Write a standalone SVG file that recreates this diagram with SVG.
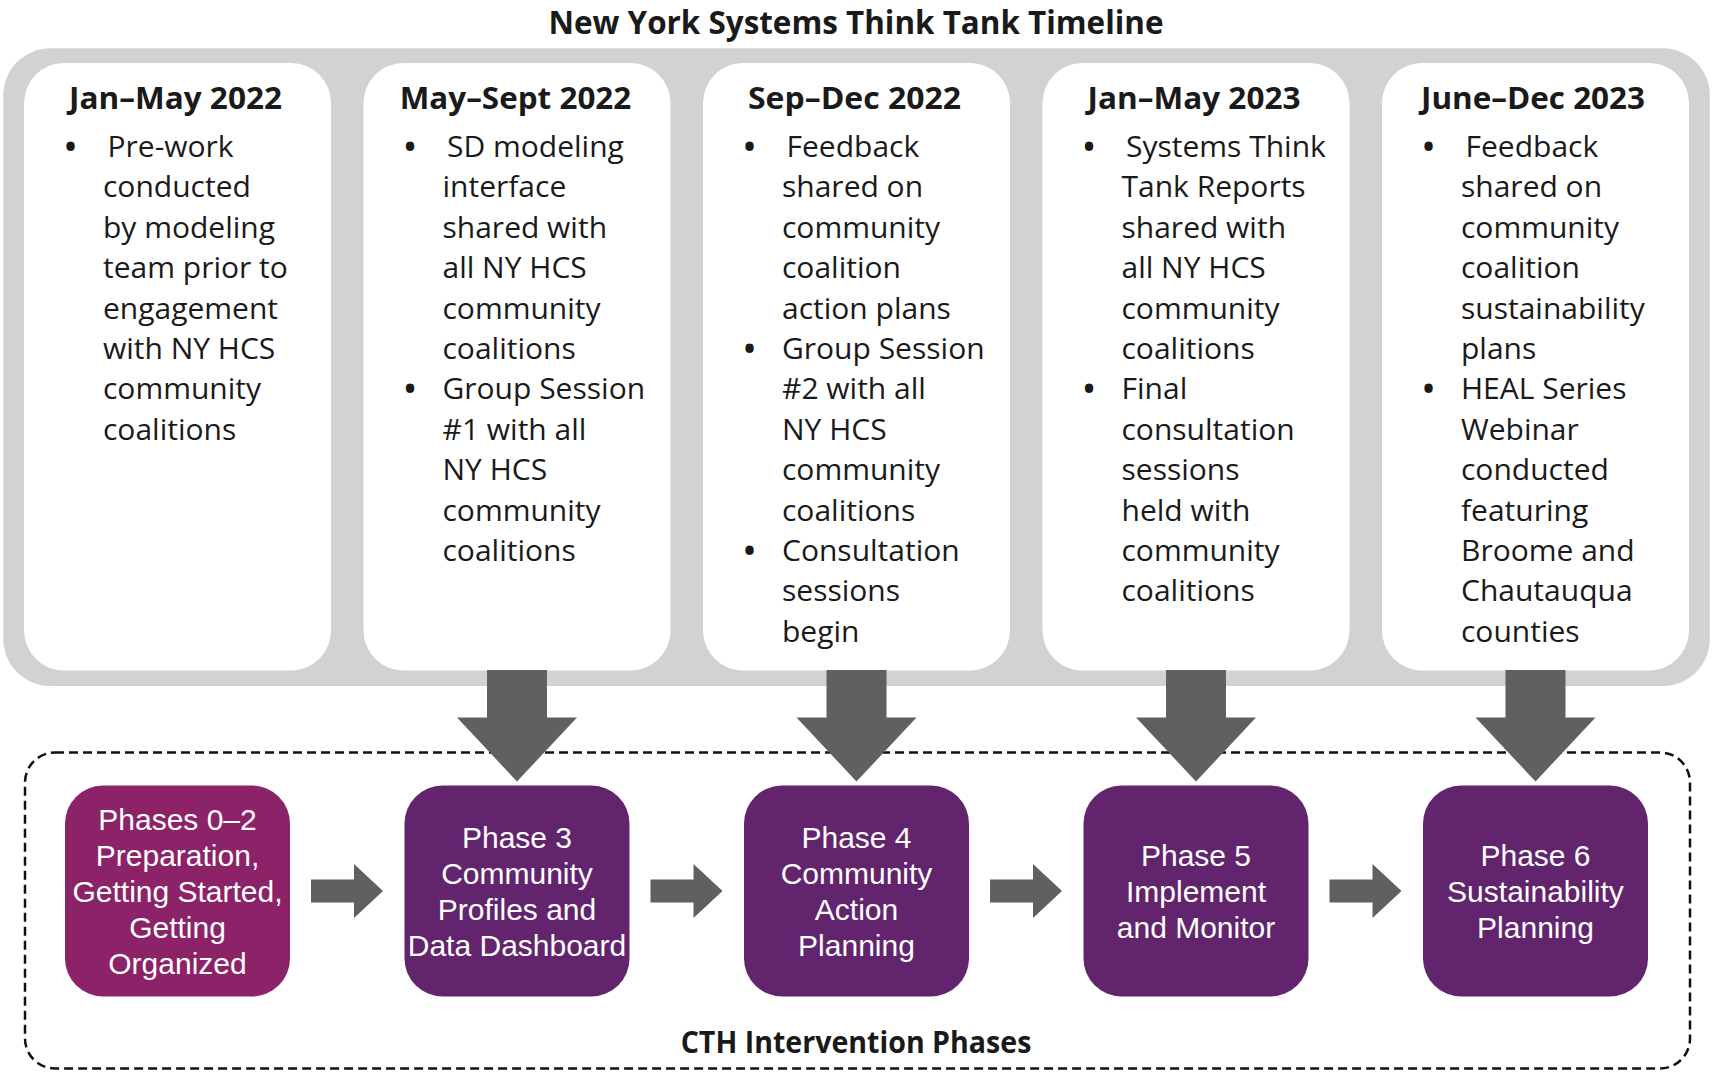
<svg xmlns="http://www.w3.org/2000/svg" width="1713" height="1077" viewBox="0 0 1713 1077">
<style>
.title{font-family:"Open Sans","Liberation Sans",sans-serif;font-weight:bold;font-size:32px;fill:#1a1a1a;text-anchor:middle}
.head{font-family:"Open Sans","Liberation Sans",sans-serif;font-weight:bold;font-size:30px;fill:#1a1a1a;text-anchor:middle}
.body{font-family:"Open Sans","Liberation Sans",sans-serif;font-size:30px;fill:#1a1a1a}
.bul{text-anchor:middle;font-size:40px}
.card{fill:#ffffff}
.box{fill:#63246e}
.box0{fill:#8c2368}
.ptxt{font-family:"Liberation Sans",Arial,sans-serif;font-size:30px;fill:#ffffff;text-anchor:middle}
.arrow{fill:#5f6062}
</style>
<rect width="1713" height="1077" fill="#ffffff"/>
<text id="title" class="title" x="856" y="33.5" textLength="615" lengthAdjust="spacingAndGlyphs">New York Systems Think Tank Timeline</text>
<g id="timeline">
<rect x="3.3" y="48.3" width="1706.5" height="637.7" rx="47" fill="#d1d2d4"/>
</g>
<g id="card-1">
<rect class="card" x="24" y="63" width="307" height="607.5" rx="40"/>
<text class="head" x="175.5" y="108.5" textLength="213" lengthAdjust="spacingAndGlyphs">Jan–May 2022</text>
<text class="body">
<tspan class="bul" x="74.5" y="160.5">•</tspan>
<tspan x="107.5" y="157">Pre-work</tspan>
<tspan x="103" y="197.4">conducted</tspan>
<tspan x="103" y="237.8">by modeling</tspan>
<tspan x="103" y="278.2">team prior to</tspan>
<tspan x="103" y="318.6">engagement</tspan>
<tspan x="103" y="359">with NY HCS</tspan>
<tspan x="103" y="399.4">community</tspan>
<tspan x="103" y="439.8">coalitions</tspan>
</text>
</g>
<g id="card-2">
<rect class="card" x="363.5" y="63" width="307" height="607.5" rx="40"/>
<text class="head" x="515.5" y="108.5" textLength="231.6" lengthAdjust="spacingAndGlyphs">May–Sept 2022</text>
<text class="body">
<tspan class="bul" x="414" y="160.5">•</tspan>
<tspan x="447" y="157">SD modeling</tspan>
<tspan x="442.5" y="197.4">interface</tspan>
<tspan x="442.5" y="237.8">shared with</tspan>
<tspan x="442.5" y="278.2">all NY HCS</tspan>
<tspan x="442.5" y="318.6">community</tspan>
<tspan x="442.5" y="359">coalitions</tspan>
<tspan class="bul" x="414" y="402.9">•</tspan>
<tspan x="442.5" y="399.4">Group Session</tspan>
<tspan x="442.5" y="439.8">#1 with all</tspan>
<tspan x="442.5" y="480.2">NY HCS</tspan>
<tspan x="442.5" y="520.6">community</tspan>
<tspan x="442.5" y="561">coalitions</tspan>
</text>
</g>
<g id="card-3">
<rect class="card" x="703" y="63" width="307" height="607.5" rx="40"/>
<text class="head" x="854.5" y="108.5" textLength="213" lengthAdjust="spacingAndGlyphs">Sep–Dec 2022</text>
<text class="body">
<tspan class="bul" x="753.5" y="160.5">•</tspan>
<tspan x="786.5" y="157">Feedback</tspan>
<tspan x="782" y="197.4">shared on</tspan>
<tspan x="782" y="237.8">community</tspan>
<tspan x="782" y="278.2">coalition</tspan>
<tspan x="782" y="318.6">action plans</tspan>
<tspan class="bul" x="753.5" y="362.5">•</tspan>
<tspan x="782" y="359">Group Session</tspan>
<tspan x="782" y="399.4">#2 with all</tspan>
<tspan x="782" y="439.8">NY HCS</tspan>
<tspan x="782" y="480.2">community</tspan>
<tspan x="782" y="520.6">coalitions</tspan>
<tspan class="bul" x="753.5" y="564.5">•</tspan>
<tspan x="782" y="561">Consultation</tspan>
<tspan x="782" y="601.4">sessions</tspan>
<tspan x="782" y="641.8">begin</tspan>
</text>
</g>
<g id="card-4">
<rect class="card" x="1042.5" y="63" width="307" height="607.5" rx="40"/>
<text class="head" x="1194" y="108.5" textLength="213" lengthAdjust="spacingAndGlyphs">Jan–May 2023</text>
<text class="body">
<tspan class="bul" x="1093" y="160.5">•</tspan>
<tspan x="1126" y="157">Systems Think</tspan>
<tspan x="1121.5" y="197.4">Tank Reports</tspan>
<tspan x="1121.5" y="237.8">shared with</tspan>
<tspan x="1121.5" y="278.2">all NY HCS</tspan>
<tspan x="1121.5" y="318.6">community</tspan>
<tspan x="1121.5" y="359">coalitions</tspan>
<tspan class="bul" x="1093" y="402.9">•</tspan>
<tspan x="1121.5" y="399.4">Final</tspan>
<tspan x="1121.5" y="439.8">consultation</tspan>
<tspan x="1121.5" y="480.2">sessions</tspan>
<tspan x="1121.5" y="520.6">held with</tspan>
<tspan x="1121.5" y="561">community</tspan>
<tspan x="1121.5" y="601.4">coalitions</tspan>
</text>
</g>
<g id="card-5">
<rect class="card" x="1382" y="63" width="307" height="607.5" rx="40"/>
<text class="head" x="1533" y="108.5" textLength="224" lengthAdjust="spacingAndGlyphs">June–Dec 2023</text>
<text class="body">
<tspan class="bul" x="1432.5" y="160.5">•</tspan>
<tspan x="1465.5" y="157">Feedback</tspan>
<tspan x="1461" y="197.4">shared on</tspan>
<tspan x="1461" y="237.8">community</tspan>
<tspan x="1461" y="278.2">coalition</tspan>
<tspan x="1461" y="318.6">sustainability</tspan>
<tspan x="1461" y="359">plans</tspan>
<tspan class="bul" x="1432.5" y="402.9">•</tspan>
<tspan x="1461" y="399.4">HEAL Series</tspan>
<tspan x="1461" y="439.8">Webinar</tspan>
<tspan x="1461" y="480.2">conducted</tspan>
<tspan x="1461" y="520.6">featuring</tspan>
<tspan x="1461" y="561">Broome and</tspan>
<tspan x="1461" y="601.4">Chautauqua</tspan>
<tspan x="1461" y="641.8">counties</tspan>
</text>
</g>
<g id="cth-phases">
<rect x="25" y="752.5" width="1665" height="316" rx="30" fill="none" stroke="#111111" stroke-width="2.5" stroke-dasharray="9 5"/>
<text class="head" x="856" y="1053.3" textLength="350.7" lengthAdjust="spacingAndGlyphs">CTH Intervention Phases</text>
</g>
<g id="connectors">
<polygon class="arrow" points="487,670 547,670 547,717.5 577,717.5 517,781.5 457,717.5 487,717.5"/>
<polygon class="arrow" points="826.5,670 886.5,670 886.5,717.5 916.5,717.5 856.5,781.5 796.5,717.5 826.5,717.5"/>
<polygon class="arrow" points="1166,670 1226,670 1226,717.5 1256,717.5 1196,781.5 1136,717.5 1166,717.5"/>
<polygon class="arrow" points="1505.5,670 1565.5,670 1565.5,717.5 1595.5,717.5 1535.5,781.5 1475.5,717.5 1505.5,717.5"/>
<polygon class="arrow" points="311,879.5 354,879.5 354,864 383,891 354,918 354,902.5 311,902.5"/>
<polygon class="arrow" points="650.5,879.5 693.5,879.5 693.5,864 722.5,891 693.5,918 693.5,902.5 650.5,902.5"/>
<polygon class="arrow" points="990,879.5 1033,879.5 1033,864 1062,891 1033,918 1033,902.5 990,902.5"/>
<polygon class="arrow" points="1329.5,879.5 1372.5,879.5 1372.5,864 1401.5,891 1372.5,918 1372.5,902.5 1329.5,902.5"/>
</g>
<g id="phase-0-2">
<rect class="box0" x="65" y="785.5" width="225" height="211" rx="38"/>
<text class="ptxt"><tspan x="177.5" y="829.7">Phases 0–2</tspan><tspan x="177.5" y="865.7">Preparation,</tspan><tspan x="177.5" y="901.7">Getting Started,</tspan><tspan x="177.5" y="937.7">Getting</tspan><tspan x="177.5" y="973.7">Organized</tspan></text>
</g>
<g id="phase-3">
<rect class="box" x="404.5" y="785.5" width="225" height="211" rx="38"/>
<text class="ptxt"><tspan x="517" y="847.7">Phase 3</tspan><tspan x="517" y="883.7">Community</tspan><tspan x="517" y="919.7">Profiles and</tspan><tspan x="517" y="955.7">Data Dashboard</tspan></text>
</g>
<g id="phase-4">
<rect class="box" x="744" y="785.5" width="225" height="211" rx="38"/>
<text class="ptxt"><tspan x="856.5" y="847.7">Phase 4</tspan><tspan x="856.5" y="883.7">Community</tspan><tspan x="856.5" y="919.7">Action</tspan><tspan x="856.5" y="955.7">Planning</tspan></text>
</g>
<g id="phase-5">
<rect class="box" x="1083.5" y="785.5" width="225" height="211" rx="38"/>
<text class="ptxt"><tspan x="1196" y="865.7">Phase 5</tspan><tspan x="1196" y="901.7">Implement</tspan><tspan x="1196" y="937.7">and Monitor</tspan></text>
</g>
<g id="phase-6">
<rect class="box" x="1423" y="785.5" width="225" height="211" rx="38"/>
<text class="ptxt"><tspan x="1535.5" y="865.7">Phase 6</tspan><tspan x="1535.5" y="901.7">Sustainability</tspan><tspan x="1535.5" y="937.7">Planning</tspan></text>
</g>
</svg>
